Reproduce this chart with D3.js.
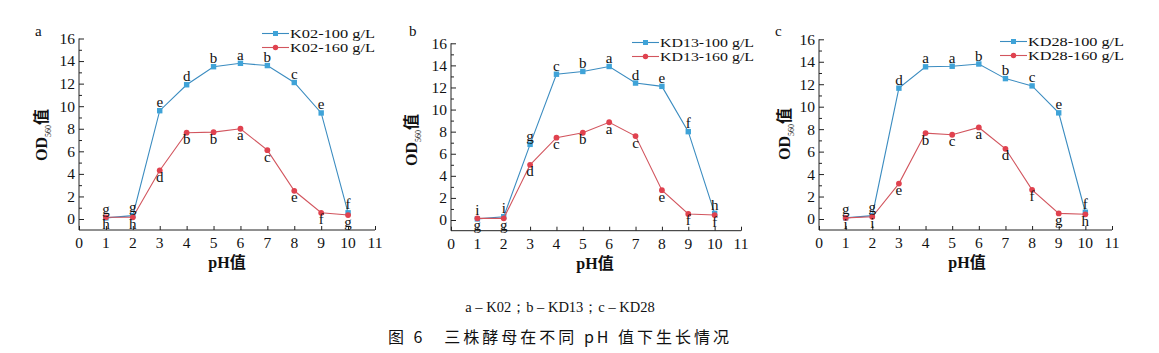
<!DOCTYPE html>
<html><head><meta charset="utf-8">
<script src="https://cdn.jsdelivr.net/npm/d3@7"></script>
<style>
body{margin:0;background:#fff;}
svg text{font-family:"Liberation Serif","DejaVu Serif",serif;fill:#111;}
</style></head>
<body>
<svg id="c" width="1159" height="353"></svg>
<script>
const pH = [1,2,3,4,5,6,7,8,9,10];
const xTicks = [0,1,2,3,4,5,6,7,8,9,10,11];
const yTicks = [0,2,4,6,8,10,12,14,16];
const panelTags = ["a","b","c"];
const seriesNames = [["K02-100 g/L","K02-160 g/L"],["KD13-100 g/L","KD13-160 g/L"],["KD28-100 g/L","KD28-160 g/L"]];
// panel a (K02)
const k02_100 = [0.1,0.3,9.6,11.9,13.5,13.8,13.6,12.1,9.4,0.55];
const k02_160 = [0.15,0.15,4.3,7.65,7.7,8.0,6.1,2.5,0.55,0.35];
const k02_100_sig = ["g","g","e","d","b","a","b","c","e","f"];
const k02_160_sig = ["h","h","d","b","b","a","c","e","f","g"];
// panel b (KD13)
const kd13_100 = [0.1,0.3,6.85,13.2,13.45,13.9,12.4,12.1,8.0,0.6];
const kd13_160 = [0.15,0.15,5.0,7.45,7.9,8.85,7.6,2.7,0.55,0.45];
const kd13_100_sig = ["i","i","g","c","b","a","d","e","f","h"];
const kd13_160_sig = ["g","g","d","c","b","a","c","e","f","f"];
// panel c (KD28)
const kd28_100 = [0.1,0.3,11.65,13.55,13.6,13.8,12.5,11.85,9.45,0.6];
const kd28_160 = [0.1,0.2,3.15,7.65,7.5,8.15,6.25,2.6,0.5,0.42];
const kd28_100_sig = ["g","g","d","a","a","b","b","c","e","f"];
const kd28_160_sig = ["i","i","e","b","c","a","d","f","g","h"];
const captionLine1 = "a – K02；b – KD13；c – KD28";
const captionLine2 = "图 6　三株酵母在不同 pH 值下生长情况";

const blueLine = "#3b8cc0", blueFill = "#3fa3d8";
const redLine = "#d2555e", redFill = "#e0424f";

const svg = d3.select("#c");

const panels = [
  {tag:panelTags[0], names:seriesNames[0], s100:k02_100, s160:k02_160, g100:k02_100_sig, g160:k02_160_sig,
   x0:79, x1:375, y0:219, y16:38.5, axisY:230, tagX:35, tagY:36, yTitleX:41, yTitleY:135, xTitleX:227, legX:262, legY:33.5, legW:85},
  {tag:panelTags[1], names:seriesNames[1], s100:kd13_100, s160:kd13_160, g100:kd13_100_sig, g160:kd13_160_sig,
   x0:451, x1:741, y0:220, y16:43.3, axisY:230.7, tagX:409, tagY:36, yTitleX:411, yTitleY:140, xTitleX:595, legX:632, legY:42.5, legW:94},
  {tag:panelTags[2], names:seriesNames[2], s100:kd28_100, s160:kd28_160, g100:kd28_100_sig, g160:kd28_160_sig,
   x0:819, x1:1112, y0:219, y16:39.3, axisY:230, tagX:775, tagY:36, yTitleX:784, yTitleY:134, xTitleX:967, legX:1000, legY:41.5, legW:96}
];

panels.forEach(p => {
  const x = d3.scaleLinear().domain([0,11]).range([p.x0,p.x1]);
  const y = d3.scaleLinear().domain([0,16]).range([p.y0,p.y16]);
  const g = svg.append("g");

  // y axis (ticks inward)
  const yAxis = d3.axisRight(y).tickValues(yTicks).tickSize(5).tickFormat("");
  const ya = g.append("g").attr("transform",`translate(${p.x0},0)`).call(yAxis);
  ya.select(".domain").remove();
  ya.selectAll("line").attr("stroke","#222");
  const yMinor = d3.axisRight(y).tickValues(d3.range(1,16,2)).tickSize(3).tickFormat("");
  const ym = g.append("g").attr("transform",`translate(${p.x0},0)`).call(yMinor);
  ym.select(".domain").remove();
  ym.selectAll("line").attr("stroke","#222");
  g.append("line").attr("x1",p.x0).attr("x2",p.x0).attr("y1",y(16)).attr("y2",p.axisY).attr("stroke","#222");
  yTicks.forEach(v => {
    g.append("text").attr("x",p.x0-4).attr("y",y(v)).attr("dy","0.35em")
      .attr("text-anchor","end").attr("font-size",15.5).text(v);
  });

  // x axis (ticks upward)
  const xAxis = d3.axisTop(x).tickValues(xTicks).tickSize(4).tickFormat("");
  const xa = g.append("g").attr("transform",`translate(0,${p.axisY})`).call(xAxis);
  xa.select(".domain").remove();
  xa.selectAll("line").attr("stroke","#222");
  g.append("line").attr("x1",x(0)).attr("x2",x(11)).attr("y1",p.axisY).attr("y2",p.axisY).attr("stroke","#222");
  xTicks.forEach(v => {
    g.append("text").attr("x",x(v)).attr("y",p.axisY+18)
      .attr("text-anchor","middle").attr("font-size",15.5).text(v);
  });

  // titles
  g.append("text").attr("x",p.xTitleX).attr("y",p.axisY+38).attr("text-anchor","middle")
    .attr("font-size",16).attr("font-weight","bold")
    .html('pH<tspan style="font-family:\'Noto Sans CJK SC\'">值</tspan>');
  const yt = g.append("text").attr("transform",`translate(${p.yTitleX},${p.yTitleY}) rotate(-90)`)
    .attr("text-anchor","middle").attr("dy","0.35em").attr("font-size",16).attr("font-weight","bold");
  yt.append("tspan").text("OD");
  yt.append("tspan").attr("font-size",8).attr("font-weight","normal").attr("dy",4).text("560");
  yt.append("tspan").attr("dy",-4).style("font-family","'Noto Sans CJK SC'").text("值");
  g.append("text").attr("x",p.tagX).attr("y",p.tagY).attr("font-size",15).text(p.tag);

  const line = d3.line().x((d,i)=>x(pH[i])).y(d=>y(d));
  // blue
  g.append("path").datum(p.s100).attr("d",line).attr("fill","none").attr("stroke",blueLine).attr("stroke-width",1.1);
  g.selectAll(".sq").data(p.s100).enter().append("rect")
    .attr("x",(d,i)=>x(pH[i])-2.7).attr("y",d=>y(d)-2.7).attr("width",5.4).attr("height",5.4).attr("fill",blueFill);
  // red
  g.append("path").datum(p.s160).attr("d",line).attr("fill","none").attr("stroke",redLine).attr("stroke-width",1.1);
  g.selectAll(".ci").data(p.s160).enter().append("circle")
    .attr("cx",(d,i)=>x(pH[i])).attr("cy",d=>y(d)).attr("r",2.9).attr("fill",redFill);

  // significance letters
  p.s100.forEach((d,i) => {
    g.append("text").attr("x",x(pH[i])).attr("y",y(d)-3.5).attr("text-anchor","middle").attr("font-size",15).text(p.g100[i]);
  });
  p.s160.forEach((d,i) => {
    g.append("text").attr("x",x(pH[i])).attr("y",y(d)+11.5).attr("text-anchor","middle").attr("font-size",15).text(p.g160[i]);
  });

  // legend
  [[p.names[0],blueLine,blueFill,"sq"],[p.names[1],redLine,redFill,"ci"]].forEach((L,k) => {
    const ly = p.legY + k*14;
    g.append("line").attr("x1",p.legX).attr("x2",p.legX+27).attr("y1",ly).attr("y2",ly).attr("stroke",L[1]).attr("stroke-width",1.1);
    if (L[3]==="sq") g.append("rect").attr("x",p.legX+13.5-2.5).attr("y",ly-2.5).attr("width",5).attr("height",5).attr("fill",L[2]);
    else g.append("circle").attr("cx",p.legX+13.5).attr("cy",ly).attr("r",2.7).attr("fill",L[2]);
    g.append("text").attr("x",p.legX+28).attr("y",ly).attr("dy","0.33em").attr("font-size",12.5)
      .attr("textLength",p.legW).attr("lengthAdjust","spacingAndGlyphs").text(L[0]);
  });
});

svg.append("text").attr("x",560).attr("y",312).attr("text-anchor","middle").attr("font-size",14.5).text(captionLine1);
svg.append("text").attr("x",560).attr("y",343).attr("text-anchor","middle").attr("font-size",16)
  .attr("letter-spacing",3).style("font-family","'Noto Sans CJK SC'").text(captionLine2);
</script>
</body></html>
